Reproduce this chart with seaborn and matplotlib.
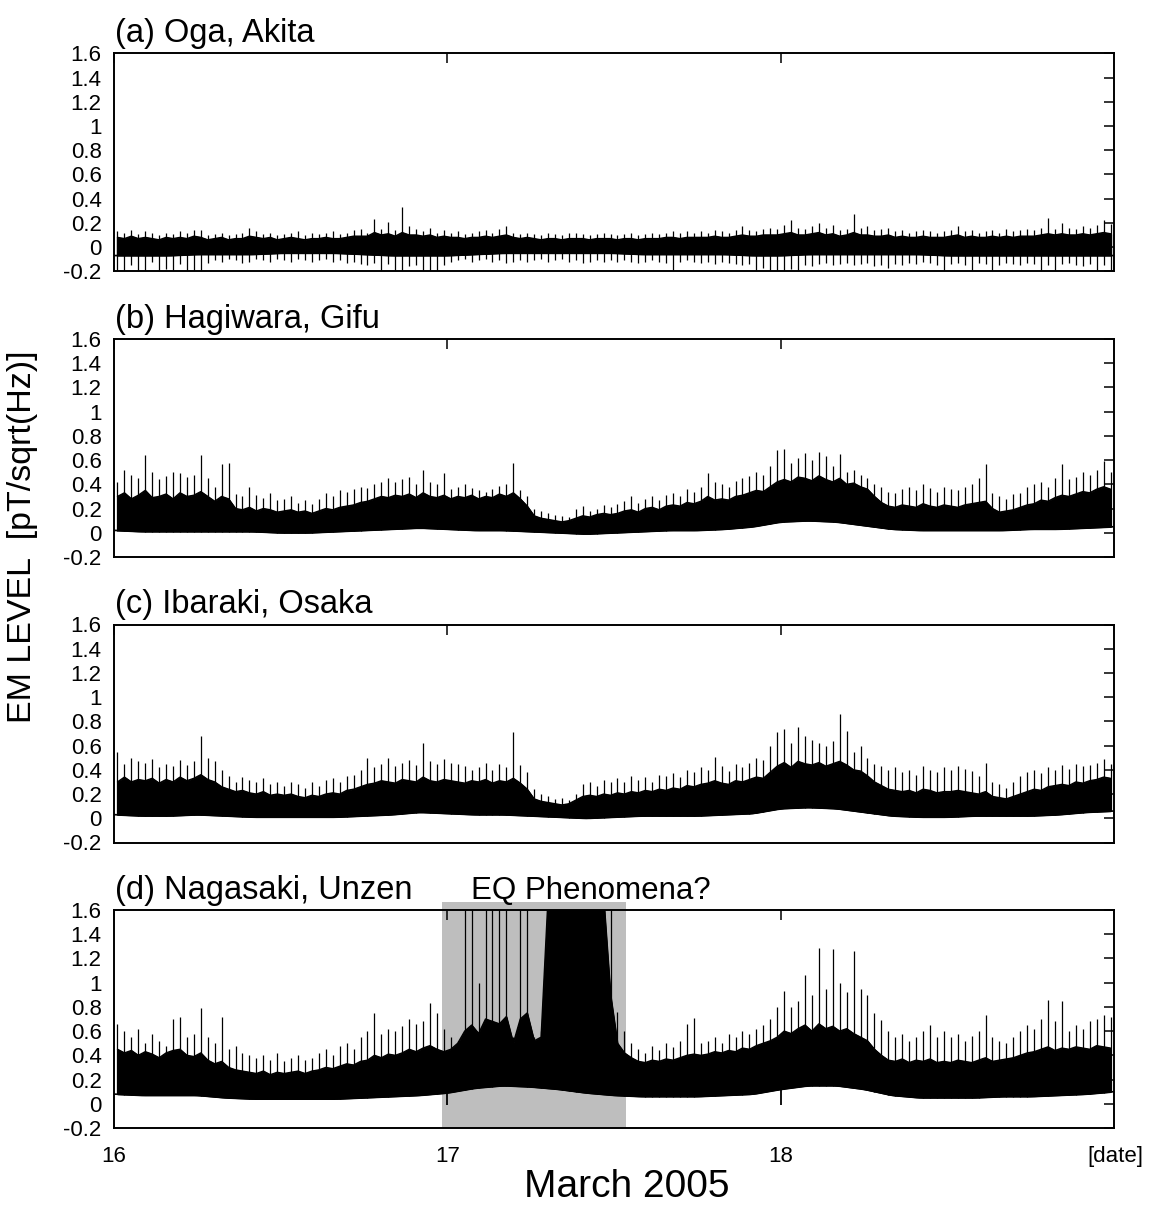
import numpy as np
import matplotlib
matplotlib.use("Agg")
import matplotlib.pyplot as plt
import seaborn as sns

# ---------------- data ----------------
panel_titles = ["(a) Oga, Akita", "(b) Hagiwara, Gifu", "(c) Ibaraki, Osaka", "(d) Nagasaki, Unzen"]
x_ticks = [16, 17, 18]
x_tick_labels = ["16", "17", "18"]
y_ticks = [-0.2, 0.0, 0.2, 0.4, 0.6, 0.8, 1.0, 1.2, 1.4, 1.6]
y_tick_labels = ["-0.2", "0", "0.2", "0.4", "0.6", "0.8", "1", "1.2", "1.4", "1.6"]

# lower edge of the signal, every 2 hours (hours 0..72 from March 16, 00:00)
band_hours = list(range(0, 73, 2))

a_low = [-0.07, -0.07, -0.07, -0.06, -0.06, -0.06, -0.05, -0.05, -0.05, -0.06, -0.07, -0.07, -0.07,
         -0.06, -0.05, -0.05, -0.05, -0.05, -0.05, -0.06, -0.06, -0.06, -0.06, -0.07, -0.07, -0.06,
         -0.06, -0.06, -0.06, -0.06, -0.07, -0.07, -0.07, -0.07, -0.07, -0.07, -0.07]
b_low = [0.02, 0.01, 0.01, 0.01, 0.01, 0.01, 0.00, 0.00, 0.01, 0.02, 0.03, 0.04, 0.03,
         0.02, 0.02, 0.01, 0.00, -0.01, 0.00, 0.01, 0.02, 0.02, 0.03, 0.05, 0.09, 0.10,
         0.09, 0.06, 0.03, 0.02, 0.02, 0.02, 0.02, 0.03, 0.03, 0.04, 0.05]
c_low = [0.03, 0.02, 0.02, 0.03, 0.02, 0.01, 0.01, 0.01, 0.01, 0.02, 0.03, 0.05, 0.04,
         0.03, 0.03, 0.02, 0.01, 0.00, 0.01, 0.02, 0.02, 0.02, 0.03, 0.04, 0.08, 0.09,
         0.08, 0.05, 0.02, 0.01, 0.01, 0.02, 0.02, 0.02, 0.03, 0.05, 0.06]
d_low = [0.08, 0.07, 0.07, 0.07, 0.05, 0.04, 0.04, 0.04, 0.04, 0.05, 0.06, 0.07, 0.09,
         0.13, 0.15, 0.14, 0.12, 0.09, 0.07, 0.06, 0.06, 0.06, 0.07, 0.08, 0.12, 0.15,
         0.15, 0.12, 0.07, 0.05, 0.05, 0.05, 0.06, 0.06, 0.07, 0.08, 0.10]

# top of the dense (solid black) part, per 30-minute slot (144 slots)
a_top = [0.08, 0.07, 0.09, 0.07, 0.08, 0.07, 0.06, 0.08, 0.07, 0.08, 0.07, 0.09,
         0.08, 0.06, 0.07, 0.08, 0.06, 0.07, 0.07, 0.09, 0.08, 0.07, 0.08, 0.06,
         0.07, 0.08, 0.07, 0.06, 0.07, 0.07, 0.08, 0.07, 0.07, 0.08, 0.09, 0.09,
         0.09, 0.12, 0.10, 0.11, 0.09, 0.12, 0.10, 0.10, 0.09, 0.10, 0.08, 0.09,
         0.08, 0.08, 0.07, 0.08, 0.08, 0.09, 0.08, 0.09, 0.10, 0.08, 0.07, 0.08,
         0.07, 0.06, 0.07, 0.07, 0.06, 0.07, 0.07, 0.07, 0.06, 0.07, 0.07, 0.07,
         0.06, 0.07, 0.07, 0.06, 0.07, 0.07, 0.07, 0.08, 0.08, 0.07, 0.08, 0.08,
         0.08, 0.08, 0.09, 0.08, 0.08, 0.09, 0.10, 0.09, 0.09, 0.10, 0.10, 0.10,
         0.11, 0.12, 0.10, 0.10, 0.11, 0.12, 0.10, 0.11, 0.09, 0.10, 0.12, 0.10,
         0.10, 0.09, 0.09, 0.10, 0.08, 0.09, 0.08, 0.08, 0.09, 0.08, 0.08, 0.08,
         0.09, 0.10, 0.08, 0.09, 0.08, 0.08, 0.09, 0.08, 0.09, 0.08, 0.09, 0.09,
         0.09, 0.10, 0.11, 0.10, 0.11, 0.10, 0.10, 0.11, 0.10, 0.11, 0.12, 0.11]
b_top = [0.30, 0.33, 0.28, 0.31, 0.35, 0.29, 0.30, 0.32, 0.28, 0.33, 0.30, 0.31,
         0.34, 0.30, 0.26, 0.30, 0.28, 0.20, 0.19, 0.21, 0.18, 0.20, 0.19, 0.17,
         0.18, 0.19, 0.17, 0.18, 0.16, 0.18, 0.20, 0.19, 0.21, 0.22, 0.23, 0.25,
         0.26, 0.28, 0.30, 0.29, 0.31, 0.30, 0.32, 0.29, 0.33, 0.30, 0.29, 0.31,
         0.28, 0.30, 0.29, 0.31, 0.28, 0.30, 0.29, 0.32, 0.30, 0.33, 0.28, 0.22,
         0.14, 0.12, 0.11, 0.10, 0.09, 0.10, 0.12, 0.14, 0.13, 0.15, 0.16, 0.15,
         0.16, 0.18, 0.19, 0.17, 0.20, 0.21, 0.19, 0.22, 0.23, 0.22, 0.25, 0.24,
         0.26, 0.30, 0.27, 0.28, 0.27, 0.30, 0.31, 0.33, 0.35, 0.34, 0.38, 0.42,
         0.44, 0.42, 0.46, 0.45, 0.43, 0.47, 0.44, 0.42, 0.45, 0.40, 0.41, 0.38,
         0.36, 0.30, 0.25, 0.22, 0.21, 0.23, 0.22, 0.21, 0.24, 0.22, 0.21, 0.23,
         0.22, 0.21, 0.23, 0.24, 0.25, 0.26, 0.20, 0.17, 0.18, 0.19, 0.21, 0.23,
         0.24, 0.27, 0.26, 0.29, 0.31, 0.30, 0.32, 0.34, 0.33, 0.36, 0.38, 0.36]
c_top = [0.30, 0.34, 0.30, 0.32, 0.31, 0.33, 0.29, 0.32, 0.30, 0.34, 0.31, 0.33,
         0.36, 0.32, 0.30, 0.26, 0.24, 0.22, 0.23, 0.21, 0.20, 0.22, 0.19, 0.20,
         0.19, 0.20, 0.18, 0.17, 0.19, 0.18, 0.20, 0.21, 0.20, 0.23, 0.24, 0.26,
         0.28, 0.29, 0.31, 0.30, 0.29, 0.32, 0.31, 0.30, 0.34, 0.31, 0.30, 0.32,
         0.31, 0.30, 0.29, 0.31, 0.30, 0.32, 0.29, 0.31, 0.30, 0.33, 0.29, 0.24,
         0.16, 0.14, 0.13, 0.12, 0.11, 0.12, 0.15, 0.18, 0.19, 0.18, 0.20, 0.19,
         0.21, 0.20, 0.22, 0.21, 0.23, 0.22, 0.24, 0.23, 0.25, 0.24, 0.27, 0.26,
         0.28, 0.29, 0.31, 0.29, 0.28, 0.31, 0.30, 0.32, 0.34, 0.33, 0.38, 0.43,
         0.46, 0.42, 0.47, 0.45, 0.44, 0.46, 0.43, 0.45, 0.47, 0.44, 0.40, 0.39,
         0.35, 0.30, 0.27, 0.24, 0.23, 0.22, 0.23, 0.21, 0.24, 0.23, 0.21, 0.22,
         0.22, 0.23, 0.22, 0.21, 0.20, 0.22, 0.18, 0.17, 0.16, 0.18, 0.20, 0.22,
         0.24, 0.23, 0.26, 0.27, 0.28, 0.27, 0.30, 0.29, 0.31, 0.32, 0.34, 0.33]
d_top = [0.45, 0.42, 0.44, 0.40, 0.43, 0.41, 0.38, 0.42, 0.44, 0.45, 0.40, 0.39,
         0.42, 0.36, 0.33, 0.35, 0.30, 0.28, 0.27, 0.26, 0.25, 0.27, 0.24, 0.26,
         0.25, 0.26, 0.27, 0.25, 0.27, 0.28, 0.30, 0.29, 0.31, 0.33, 0.32, 0.35,
         0.36, 0.40, 0.38, 0.41, 0.40, 0.42, 0.45, 0.43, 0.46, 0.48, 0.45, 0.43,
         0.45, 0.50, 0.60, 0.65, 0.58, 0.70, 0.68, 0.66, 0.72, 0.50, 0.70, 0.75,
         0.52, 0.55, 1.70, 1.70, 1.70, 1.70, 1.70, 1.70, 1.70, 1.70, 1.70, 0.90,
         0.50, 0.42, 0.38, 0.35, 0.34, 0.36, 0.35, 0.37, 0.36, 0.38, 0.40, 0.41,
         0.40, 0.41, 0.43, 0.42, 0.44, 0.43, 0.46, 0.45, 0.48, 0.50, 0.52, 0.55,
         0.60, 0.58, 0.62, 0.65, 0.60, 0.66, 0.62, 0.64, 0.60, 0.62, 0.58, 0.55,
         0.52, 0.45, 0.40, 0.36, 0.35, 0.37, 0.34, 0.36, 0.35, 0.37, 0.34, 0.35,
         0.34, 0.36, 0.35, 0.34, 0.36, 0.38, 0.35, 0.36, 0.37, 0.38, 0.40, 0.42,
         0.43, 0.45, 0.47, 0.44, 0.46, 0.45, 0.47, 0.46, 0.45, 0.48, 0.47, 0.46]

# highest spike in each 30-minute slot
a_peak = [0.13, 0.12, 0.14, 0.11, 0.13, 0.12, 0.10, 0.12, 0.11, 0.13, 0.12, 0.14,
          0.14, 0.10, 0.11, 0.12, 0.10, 0.11, 0.12, 0.16, 0.13, 0.11, 0.12, 0.10,
          0.11, 0.12, 0.13, 0.10, 0.12, 0.11, 0.12, 0.13, 0.11, 0.12, 0.14, 0.15,
          0.12, 0.23, 0.15, 0.21, 0.14, 0.33, 0.17, 0.15, 0.13, 0.16, 0.12, 0.14,
          0.12, 0.13, 0.11, 0.12, 0.13, 0.14, 0.12, 0.15, 0.17, 0.12, 0.11, 0.12,
          0.11, 0.10, 0.12, 0.11, 0.10, 0.12, 0.12, 0.11, 0.10, 0.11, 0.12, 0.11,
          0.10, 0.11, 0.12, 0.10, 0.11, 0.12, 0.11, 0.12, 0.13, 0.12, 0.13, 0.12,
          0.13, 0.12, 0.14, 0.13, 0.12, 0.14, 0.17, 0.14, 0.13, 0.15, 0.16, 0.15,
          0.18, 0.22, 0.16, 0.15, 0.17, 0.20, 0.16, 0.18, 0.14, 0.15, 0.27, 0.16,
          0.17, 0.14, 0.15, 0.16, 0.13, 0.14, 0.12, 0.13, 0.14, 0.13, 0.12, 0.13,
          0.14, 0.17, 0.13, 0.14, 0.12, 0.13, 0.14, 0.12, 0.15, 0.13, 0.14, 0.15,
          0.14, 0.16, 0.24, 0.15, 0.20, 0.16, 0.15, 0.17, 0.16, 0.18, 0.22, 0.19]
# lowest dip in each 30-minute slot (panel a only)
a_dip = [-0.20, -0.20, -0.15, -0.20, -0.20, -0.12, -0.20, -0.18, -0.20, -0.14, -0.20, -0.20,
         -0.20, -0.13, -0.11, -0.12, -0.10, -0.11, -0.13, -0.12, -0.10, -0.11, -0.12, -0.10,
         -0.11, -0.12, -0.10, -0.11, -0.12, -0.11, -0.10, -0.12, -0.11, -0.13, -0.12, -0.14,
         -0.15, -0.13, -0.20, -0.14, -0.20, -0.20, -0.16, -0.15, -0.20, -0.20, -0.20, -0.15,
         -0.12, -0.11, -0.10, -0.12, -0.11, -0.10, -0.12, -0.11, -0.13, -0.12, -0.11, -0.12,
         -0.11, -0.10, -0.12, -0.11, -0.10, -0.12, -0.11, -0.13, -0.12, -0.11, -0.12, -0.11,
         -0.12, -0.11, -0.12, -0.13, -0.12, -0.11, -0.12, -0.13, -0.20, -0.12, -0.11, -0.12,
         -0.13, -0.12, -0.14, -0.12, -0.13, -0.14, -0.15, -0.14, -0.20, -0.17, -0.20, -0.20,
         -0.20, -0.18, -0.20, -0.15, -0.16, -0.14, -0.13, -0.15, -0.14, -0.13, -0.15, -0.14,
         -0.13, -0.16, -0.15, -0.17, -0.14, -0.15, -0.13, -0.14, -0.12, -0.13, -0.15, -0.20,
         -0.14, -0.13, -0.15, -0.20, -0.13, -0.14, -0.20, -0.15, -0.13, -0.14, -0.15, -0.13,
         -0.14, -0.20, -0.15, -0.20, -0.14, -0.13, -0.15, -0.16, -0.14, -0.20, -0.15, -0.20]

b_peak = [0.42, 0.52, 0.48, 0.45, 0.64, 0.50, 0.44, 0.47, 0.50, 0.49, 0.46, 0.48,
          0.64, 0.45, 0.38, 0.57, 0.58, 0.32, 0.30, 0.38, 0.31, 0.29, 0.33, 0.27,
          0.28, 0.30, 0.25, 0.27, 0.24, 0.28, 0.33, 0.30, 0.35, 0.34, 0.36, 0.38,
          0.37, 0.40, 0.42, 0.45, 0.42, 0.44, 0.46, 0.40, 0.52, 0.42, 0.40, 0.49,
          0.36, 0.38, 0.40, 0.37, 0.35, 0.34, 0.36, 0.39, 0.40, 0.58, 0.35, 0.30,
          0.20, 0.18, 0.16, 0.15, 0.14, 0.13, 0.20, 0.22, 0.18, 0.20, 0.23, 0.21,
          0.24, 0.26, 0.30, 0.25, 0.28, 0.30, 0.27, 0.31, 0.33, 0.30, 0.36, 0.34,
          0.38, 0.49, 0.42, 0.40, 0.38, 0.43, 0.45, 0.47, 0.50, 0.48, 0.55, 0.68,
          0.69, 0.58, 0.62, 0.66, 0.60, 0.67, 0.63, 0.55, 0.65, 0.50, 0.52, 0.48,
          0.45, 0.40, 0.38, 0.34, 0.33, 0.36, 0.38, 0.35, 0.40, 0.37, 0.34, 0.38,
          0.36, 0.35, 0.38, 0.40, 0.45, 0.57, 0.33, 0.30, 0.28, 0.32, 0.33, 0.38,
          0.40, 0.42, 0.38, 0.45, 0.57, 0.44, 0.46, 0.50, 0.48, 0.52, 0.59, 0.50]
c_peak = [0.55, 0.45, 0.50, 0.47, 0.46, 0.49, 0.42, 0.45, 0.43, 0.48, 0.44, 0.47,
          0.68, 0.50, 0.47, 0.40, 0.35, 0.30, 0.34, 0.32, 0.30, 0.33, 0.28, 0.30,
          0.27, 0.30, 0.28, 0.25, 0.30, 0.27, 0.32, 0.33, 0.30, 0.35, 0.36, 0.40,
          0.50, 0.42, 0.45, 0.50, 0.43, 0.46, 0.48, 0.44, 0.62, 0.47, 0.45, 0.49,
          0.46, 0.45, 0.43, 0.40, 0.42, 0.46, 0.40, 0.45, 0.42, 0.71, 0.44, 0.38,
          0.24, 0.20, 0.18, 0.16, 0.17, 0.15, 0.20, 0.28, 0.30, 0.27, 0.32, 0.30,
          0.33, 0.30, 0.35, 0.32, 0.34, 0.30, 0.36, 0.35, 0.37, 0.34, 0.40, 0.38,
          0.42, 0.40, 0.51, 0.43, 0.39, 0.45, 0.42, 0.46, 0.50, 0.48, 0.60, 0.71,
          0.74, 0.62, 0.75, 0.68, 0.65, 0.62, 0.60, 0.64, 0.86, 0.72, 0.55, 0.60,
          0.50, 0.45, 0.43, 0.40, 0.42, 0.38, 0.40, 0.36, 0.43, 0.40, 0.38, 0.42,
          0.40, 0.43, 0.41, 0.39, 0.35, 0.46, 0.30, 0.28, 0.25, 0.30, 0.35, 0.38,
          0.40, 0.37, 0.42, 0.40, 0.44, 0.41, 0.45, 0.43, 0.44, 0.46, 0.49, 0.45]
d_peak = [0.66, 0.60, 0.55, 0.62, 0.50, 0.58, 0.52, 0.48, 0.70, 0.72, 0.55, 0.58,
          0.79, 0.55, 0.50, 0.72, 0.45, 0.48, 0.42, 0.40, 0.38, 0.40, 0.36, 0.42,
          0.35, 0.38, 0.40, 0.36, 0.38, 0.42, 0.45, 0.40, 0.48, 0.50, 0.45, 0.55,
          0.60, 0.75, 0.58, 0.62, 0.60, 0.64, 0.70, 0.66, 0.68, 0.83, 0.75, 0.62,
          0.55, 0.52, 1.70, 1.70, 1.00, 1.70, 1.70, 1.70, 1.70, 0.55, 1.70, 1.70,
          0.55, 0.60, 1.70, 1.70, 1.70, 1.70, 1.70, 1.70, 1.70, 1.70, 1.70, 1.70,
          0.76, 0.60, 0.50, 0.45, 0.42, 0.48, 0.44, 0.50, 0.47, 0.52, 0.66, 0.71,
          0.50, 0.52, 0.55, 0.50, 0.58, 0.55, 0.60, 0.58, 0.62, 0.65, 0.70, 0.80,
          0.93, 0.80, 0.85, 1.06, 0.90, 1.29, 0.95, 1.28, 1.00, 0.92, 1.26, 0.95,
          0.90, 0.75, 0.69, 0.60, 0.55, 0.58, 0.52, 0.55, 0.60, 0.65, 0.55, 0.60,
          0.55, 0.58, 0.52, 0.56, 0.60, 0.73, 0.55, 0.52, 0.50, 0.55, 0.60, 0.65,
          0.62, 0.70, 0.86, 0.68, 0.85, 0.60, 0.65, 0.62, 0.68, 0.70, 0.73, 0.72]

# short drops at the day boundaries in (d)
d_drop_hours = [24, 48]
d_drop_values = [-0.01, -0.01]

# highlighted "EQ Phenomena?" interval (day of March)
eq_start = 16.984
eq_end = 17.536
eq_top = 1.67

panels = [
    (a_low, a_top, a_peak, a_dip),
    (b_low, b_top, b_peak, None),
    (c_low, c_top, c_peak, None),
    (d_low, d_top, d_peak, None),
]

# ---------------- drawing ----------------
sns.set_theme(style="white")
plt.rcParams["font.family"] = ["Liberation Sans", "DejaVu Sans"]

W, H = 1155, 1206
fig = plt.figure(figsize=(W / 100, H / 100), dpi=100)

left_px, right_px = 114, 1114
tops_px = [53.3, 339.0, 624.5, 910.0]
height_px = 218.0

slot_idx = np.arange(144)
slot_days = 16 + (0.25 + 0.5 * slot_idx) / 24.0
band_days = 16 + np.array(band_hours) / 24.0

for i, (low, top, peak, dip) in enumerate(panels):
    ax = fig.add_axes([left_px / W, 1 - (tops_px[i] + height_px) / H,
                       (right_px - left_px) / W, height_px / H])
    low = np.array(low)
    top = np.array(top)
    peak = np.array(peak)
    # bottom of each slot's drawing, placed on the drawn lower edge
    slot_low = np.interp(slot_days, band_days, low)

    if i == 3:
        ax.add_patch(plt.Rectangle((eq_start, -0.2), eq_end - eq_start, eq_top + 0.2,
                                   facecolor="#bebebe", edgecolor="none",
                                   clip_on=False, zorder=0))

    # dense part of the record
    ax.fill_between(slot_days, slot_low, top, color="black", lw=0.8,
                    edgecolor="black", zorder=2)
    sns.lineplot(x=band_days, y=low, ax=ax, color="black", lw=1.2, zorder=3)
    sns.lineplot(x=slot_days, y=top, ax=ax, color="black", lw=1.0, zorder=3)
    # isolated spikes
    ax.vlines(slot_days, slot_low, peak, color="black", lw=0.9, zorder=3)
    if dip is not None:
        ax.vlines(slot_days, np.array(dip), top, color="black", lw=0.9, zorder=3)
    if i == 3:
        dd = 16 + np.array(d_drop_hours) / 24.0
        ax.vlines(dd, np.array(d_drop_values), [0.15, 0.15], color="black", lw=1.3, zorder=3)

    ax.set_xlim(16, 19)
    ax.set_ylim(-0.2, 1.6)
    ax.set_yticks(y_ticks)
    ax.set_yticklabels(y_tick_labels)
    ax.set_xticks(x_ticks)
    if i == 3:
        ax.set_xticklabels(x_tick_labels)
    else:
        ax.set_xticklabels([])
    ax.tick_params(axis="both", direction="in", length=7, width=1.1, color="black",
                   top=True, right=True, labelsize=16, labelcolor="black")
    ax.tick_params(axis="y", pad=9)
    ax.tick_params(axis="x", pad=13)
    for s in ax.spines.values():
        s.set_visible(True)
        s.set_linewidth(1.4)
        s.set_color("black")
        s.set_zorder(5)
    ax.set_xlabel("")
    ax.set_ylabel("")
    ax.grid(False)
    ax.set_facecolor("none")

    ax.annotate(panel_titles[i], xy=(0, 1), xycoords="axes fraction",
                xytext=(1, 8), textcoords="offset points",
                ha="left", va="baseline", fontsize=23.5, color="black")
    if i == 3:
        ax.annotate("EQ Phenomena?", xy=(17.07, 1), xycoords=("data", "axes fraction"),
                    xytext=(0, 8), textcoords="offset points",
                    ha="left", va="baseline", fontsize=22.5, color="black")

fig.text(23 / W, 1 - 537 / H, "EM LEVEL  [pT/sqrt(Hz)]", rotation=90,
         ha="center", va="center", fontsize=24.5, color="black")
fig.text(627 / W, 1 - 1205 / H, "March 2005", ha="center", va="bottom",
         fontsize=28, color="black")
fig.text(1143 / W, 1 - 1162 / H, "[date]", ha="right", va="baseline",
         fontsize=16, color="black")

fig.savefig("out.png", dpi=100, facecolor="white")
